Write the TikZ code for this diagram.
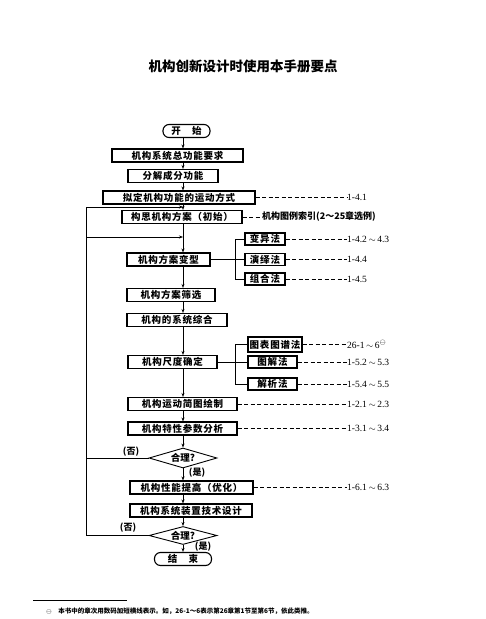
\documentclass[tikz,border=0pt]{standalone}
\usepackage{fontspec}
\setmainfont{Liberation Serif}
\newfontfamily\cjk[LetterSpace=8]{Noto Sans CJK SC}
\newfontfamily\cjkplain{Noto Sans CJK SC}
\usetikzlibrary{shapes.geometric,arrows.meta}
\newcommand\upto{\,$\sim$\,}
\begin{document}
\begin{tikzpicture}[x=1pt,y=-1pt,
  stepbox/.style={draw,line width=1.1pt,inner sep=0pt,minimum height=13pt,font=\cjk\bfseries\fontsize{9.5}{11}\selectfont},
  endbox/.style={stepbox,rounded corners=6pt},
  subbox/.style={stepbox,minimum height=12pt},
  check/.style={draw,line width=0.9pt,diamond,aspect=3.4,inner sep=0pt,minimum width=68pt,minimum height=20pt,font=\cjkplain\bfseries\fontsize{9.5}{11}\selectfont},
  flow/.style={line width=0.6pt,-{Stealth[length=4pt,width=3pt]}},
  link/.style={line width=0.6pt},
  refline/.style={line width=0.6pt,dash pattern=on 4pt off 2.5pt},
  reftext/.style={anchor=west,inner sep=0pt,font=\fontsize{9.5}{11}\selectfont},
  note/.style={inner sep=0pt,font=\cjkplain\bfseries\fontsize{9}{10}\selectfont}]
\path[use as bounding box] (0,0) rectangle (486,619);
\node[font=\cjkplain\bfseries\fontsize{13.5}{15}\selectfont] (title) at (243,66) {机构创新设计时使用本手册要点};
% main column
\coordinate (spine) at (183,0);
\node[endbox,minimum width=47pt] (start) at (186.5,131) {开\hspace{1.2em}始};
\node[stepbox,minimum width=131pt] (req) at (177.5,155.5) {机构系统总功能要求};
\node[stepbox,minimum width=90pt] (decomp) at (173,176) {分解成分功能};
\node[stepbox,minimum width=152pt] (motion) at (179,197.5) {拟定机构功能的运动方式};
\node[stepbox,minimum width=120pt] (concept) at (182,217) {构思机构方案（初始）};
\node[stepbox,minimum width=83pt] (variant) at (168.5,259.5) {机构方案变型};
\node[stepbox,minimum width=88pt] (screen) at (171,295) {机构方案筛选};
\node[stepbox,minimum width=100pt] (synth) at (177,320) {机构的系统综合};
\node[stepbox,minimum width=89pt] (dimen) at (172.5,362) {机构尺度确定};
\node[stepbox,minimum width=109pt] (sketch) at (182.5,404) {机构运动简图绘制};
\node[stepbox,minimum width=109pt] (analysis) at (182.5,428.5) {机构特性参数分析};
\node[check] (check1) at (183,458) {合理?};
\node[stepbox,minimum width=123pt] (optim) at (191.5,487.5) {机构性能提高（优化）};
\node[stepbox,minimum width=122pt] (tech) at (191,510.5) {机构系统装置技术设计};
\node[check,minimum height=18pt] (check2) at (183,535.5) {合理?};
\node[endbox,minimum width=57pt] (stop) at (183,559) {结\hspace{1.2em}束};
\foreach \a/\b in {start/req,req/decomp,decomp/motion,motion/concept,concept/variant,variant/screen,screen/synth,synth/dimen,dimen/sketch,sketch/analysis,analysis/check1,check1/optim,optim/tech,tech/check2,check2/stop}
  \draw[flow] (\a.south -| spine) -- (\b.north -| spine);
\node[note] (yes1) at (197,473) {(是)};
\node[note] (yes2) at (203,547) {(是)};
% loops back
\coordinate (loopin) at (86,0);
\coordinate (join1) at (183,237);
\coordinate (join2) at (183,207);
\draw[flow] (check1.west) -- (check1.west -| loopin) -- (loopin |- join1) -- (join1);
\draw[flow] (check2.west) -- (check2.west -| loopin) -- (loopin |- join2) -- (join2);
\node[note] (no1) at (131,452) {(否)};
\node[note] (no2) at (128,528) {(否)};
% variants
\node[subbox,minimum width=40pt] (var1) at (265,239) {变异法};
\node[subbox,minimum width=40pt] (var2) at (265,259.5) {演绎法};
\node[subbox,minimum width=40pt] (var3) at (265,279) {组合法};
\coordinate (fork1) at (235,0);
\draw[link] (variant.east) -- (variant.east -| fork1);
\draw[link] (var1.west -| fork1) -- (var3.west -| fork1);
\foreach \v in {var1,var2,var3}
  \draw[link] (\v.west -| fork1) -- (\v.west);
% dimension methods
\node[subbox,minimum width=54pt,minimum height=15pt] (dim1) at (275,344.5) {图表图谱法};
\node[subbox,minimum width=49pt] (dim2) at (272.5,362) {图解法};
\node[subbox,minimum width=49pt] (dim3) at (272.5,384) {解析法};
\coordinate (fork2) at (235,0);
\draw[link] (dimen.east) -- (dimen.east -| fork2);
\draw[link] (dim1.west -| fork2) -- (dim3.west -| fork2);
\foreach \v in {dim1,dim2,dim3}
  \draw[link] (\v.west -| fork2) -- (\v.west);
% handbook references
\node[reftext] (rmotion) at (347,197.5) {1-4.1};
\node[reftext,font=\cjkplain\bfseries\fontsize{9}{10}\selectfont] (rconcept) at (262,217) {机构图例索引(2～25章选例)};
\node[reftext] (rvar1) at (347,239) {1-4.2\upto4.3};
\node[reftext] (rvar2) at (347,259.5) {1-4.4};
\node[reftext] (rvar3) at (347,279) {1-4.5};
\node[reftext] (rdim1) at (347,344.5) {26-1\upto6$^{\ominus}$};
\node[reftext] (rdim2) at (347,362) {1-5.2\upto5.3};
\node[reftext] (rdim3) at (347,384) {1-5.4\upto5.5};
\node[reftext] (rsketch) at (347,404) {1-2.1\upto2.3};
\node[reftext] (ranalysis) at (347,428.5) {1-3.1\upto3.4};
\node[reftext] (roptim) at (347,487.5) {1-6.1\upto6.3};
\foreach \a/\b in {motion/rmotion,concept/rconcept,var1/rvar1,var2/rvar2,var3/rvar3,dim1/rdim1,dim2/rdim2,dim3/rdim3,sketch/rsketch,analysis/ranalysis,optim/roptim}
  \draw[refline] (\a.east) -- (\a.east -| \b.west);
% footnote
\draw[line width=0.8pt] (33,600) -- (127,600);
\node[anchor=west,inner sep=0pt,font=\cjkplain\bfseries\fontsize{6.5}{8}\selectfont] (fnote) at (46,611) {$\ominus$\quad 本书中的章次用数码加短横线表示。如，26-1～6表示第26章第1节至第6节，依此类推。};
\end{tikzpicture}
\end{document}
